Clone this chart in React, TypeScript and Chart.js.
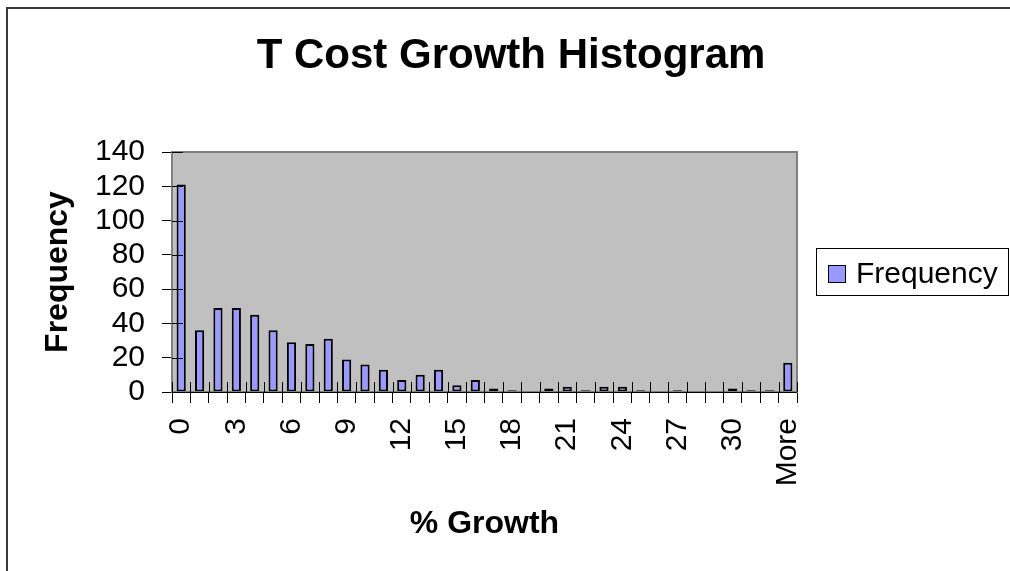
import React, { useEffect, useRef } from "react";
import { Chart, registerables, layouts } from "chart.js";

Chart.register(...registerables);

// ---- Data ----
const categories = [
  "0", "1", "2", "3", "4", "5", "6", "7", "8", "9",
  "10", "11", "12", "13", "14", "15", "16", "17", "18", "19",
  "20", "21", "22", "23", "24", "25", "26", "27", "28", "29",
  "30", "31", "32", "More",
];
const frequencies = [
  121, 36, 49, 49, 45, 36, 29, 28, 31, 19,
  16, 13, 7, 10, 13, 4, 7, 2, 1, 0,
  2, 3, 1, 3, 3, 1, 0, 1, 0, 0,
  2, 1, 1, 17,
];
const yMin = 0;
const yMax = 140;
const yStep = 20;
const xLabelEvery = 3;

const titleText = "T Cost Growth Histogram";
const xTitle = "% Growth";
const yTitle = "Frequency";
const seriesName = "Frequency";

// ---- Style ----
const FONT = "'Liberation Sans', Arial, Helvetica, sans-serif";
const BAR_FILL = "#9999FF";
const PLOT_BG = "#C0C0C0";
const PLOT_BORDER = "#808080";
const LEGEND_WIDTH = 213;

export default function App() {
  const ref = useRef<HTMLCanvasElement>(null);

  useEffect(() => {
    const canvas = ref.current;
    if (!canvas) return;

    const legendBox: any = {
      position: "right",
      weight: 0,
      fullSize: false,
      options: { stackWeight: 1 },
      left: 0,
      top: 0,
      right: 0,
      bottom: 0,
      width: 0,
      height: 0,
      ctx: null as any,
      isHorizontal() {
        return false;
      },
      update(_maxWidth: number, maxHeight: number) {
        this.width = LEGEND_WIDTH;
        this.height = maxHeight;
      },
      getPadding() {
        return { left: 0, top: 0, right: 0, bottom: 0 };
      },
      draw() {
        const ctx = this.ctx;
        if (!ctx) return;
        const bx = this.left + 19;
        const by = 241;
        ctx.save();
        ctx.fillStyle = "#ffffff";
        ctx.fillRect(bx, by, 193, 48);
        ctx.strokeStyle = "#000000";
        ctx.lineWidth = 1;
        ctx.strokeRect(bx + 0.5, by + 0.5, 192, 47);
        ctx.fillStyle = BAR_FILL;
        ctx.fillRect(bx + 12, by + 17, 18, 18);
        ctx.strokeRect(bx + 12.5, by + 17.5, 17, 17);
        ctx.fillStyle = "#000000";
        ctx.font = `30px ${FONT}`;
        ctx.textBaseline = "middle";
        ctx.textAlign = "left";
        ctx.fillText(seriesName, bx + 40, by + 27);
        ctx.restore();
      },
    };

    const decor = {
      id: "decor",
      beforeInit(chart: any) {
        legendBox.ctx = chart.ctx;
        layouts.addBox(chart, legendBox);
      },
      beforeDraw(chart: any) {
        const { ctx, chartArea } = chart;
        ctx.save();
        ctx.fillStyle = "#3a3a3a";
        ctx.fillRect(0, 0, 2, chart.height);
        ctx.fillRect(0, 0, chart.width, 2);
        ctx.fillStyle = PLOT_BG;
        ctx.fillRect(
          chartArea.left,
          chartArea.top,
          chartArea.right - chartArea.left,
          chartArea.bottom - chartArea.top
        );
        ctx.restore();
      },
      afterDatasetsDraw(chart: any) {
        const { ctx, chartArea } = chart;
        const xs = chart.scales.x;
        const ys = chart.scales.y;
        ctx.save();
        ctx.strokeStyle = PLOT_BORDER;
        ctx.lineWidth = 2;
        ctx.strokeRect(
          chartArea.left,
          chartArea.top,
          chartArea.right - chartArea.left,
          chartArea.bottom - chartArea.top
        );
        // bottom axis line
        ctx.strokeStyle = "#000000";
        ctx.lineWidth = 1;
        ctx.beginPath();
        ctx.moveTo(chartArea.left, chartArea.bottom + 0.5);
        ctx.lineTo(chartArea.right, chartArea.bottom + 0.5);
        ctx.stroke();
        // inner tick marks (cross style)
        const half = (xs.getPixelForValue(1) - xs.getPixelForValue(0)) / 2;
        ctx.beginPath();
        for (let i = 0; i <= categories.length; i++) {
          const px = Math.round(xs.getPixelForValue(i) - half) + 0.5;
          ctx.moveTo(px, chartArea.bottom);
          ctx.lineTo(px, chartArea.bottom - 10);
        }
        for (const t of ys.ticks) {
          const py = Math.round(ys.getPixelForValue(t.value)) + 0.5;
          ctx.moveTo(chartArea.left, py);
          ctx.lineTo(chartArea.left + 11, py);
        }
        ctx.stroke();
        ctx.restore();
      },
    };

    const chart = new Chart(canvas, {
      type: "bar",
      data: {
        labels: categories,
        datasets: [
          {
            label: seriesName,
            data: frequencies,
            backgroundColor: BAR_FILL,
            borderColor: "#000000",
            borderWidth: 2,
            borderSkipped: false,
            barPercentage: 0.5,
            categoryPercentage: 1.0,
          },
        ],
      },
      options: {
        animation: false,
        responsive: false,
        maintainAspectRatio: false,
        devicePixelRatio: 1,
        layout: { padding: { left: 6, right: 0, top: 0, bottom: 0 } },
        plugins: {
          legend: { display: false },
          tooltip: { enabled: false },
          title: {
            display: true,
            text: titleText,
            color: "#000000",
            font: { family: FONT, size: 42, weight: "bold", lineHeight: 1.2 },
            padding: { top: 24.5, bottom: 70.1 },
          },
        },
        scales: {
          x: {
            offset: true,
            afterFit(scale: any) {
              scale.height = 179;
            },
            grid: {
              display: true,
              offset: true,
              drawOnChartArea: false,
              drawTicks: true,
              tickLength: 11,
              color: "#000000",
              lineWidth: 1,
            },
            border: { display: false },
            ticks: {
              autoSkip: false,
              minRotation: 90,
              maxRotation: 90,
              padding: 15,
              color: "#000000",
              font: { family: FONT, size: 30, lineHeight: 1.2 },
              callback: (_v: any, i: number) =>
                i % xLabelEvery === 0 ? categories[i] : "",
            },
            title: {
              display: true,
              text: xTitle,
              color: "#000000",
              font: { family: FONT, size: 32, weight: "bold", lineHeight: 1.2 },
              padding: { top: 0, bottom: 28 },
            },
          },
          y: {
            min: yMin,
            max: yMax,
            afterFit(scale: any) {
              scale.width = 160;
            },
            grid: {
              display: true,
              drawOnChartArea: false,
              drawTicks: true,
              tickLength: 10,
              color: "#000000",
              lineWidth: 1,
            },
            border: { display: false },
            ticks: {
              stepSize: yStep,
              autoSkip: false,
              padding: 17,
              color: "#000000",
              font: { family: FONT, size: 30, lineHeight: 1.2 },
            },
            title: {
              display: true,
              text: yTitle,
              color: "#000000",
              font: { family: FONT, size: 32, weight: "bold", lineHeight: 1.2 },
              padding: { top: 27, bottom: 0 },
            },
          },
        },
      },
      plugins: [decor],
    } as any);

    return () => {
      chart.destroy();
    };
  }, []);

  return (
    <div
      style={{
        position: "absolute",
        left: 6,
        top: 7,
        width: 1004,
        height: 564,
      }}
    >
      <canvas ref={ref} width={1004} height={564} style={{ display: "block" }} />
    </div>
  );
}
